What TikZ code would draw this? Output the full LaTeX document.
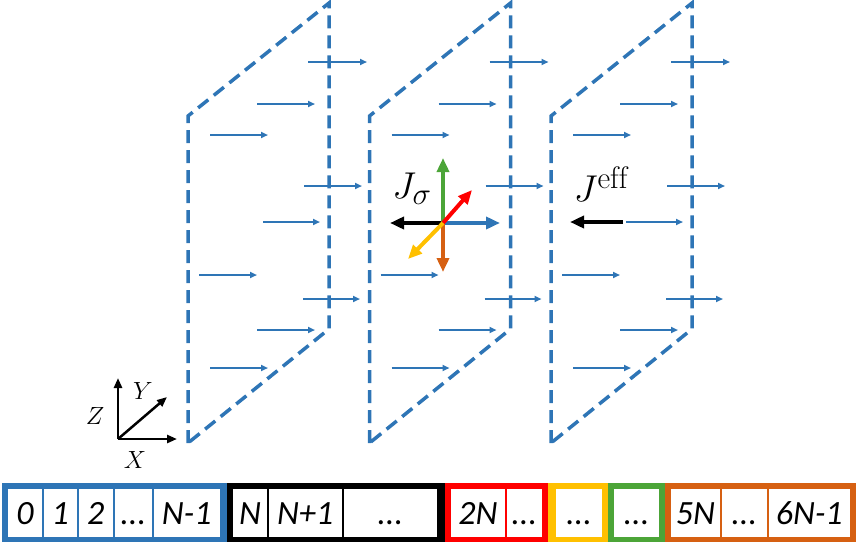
\documentclass[tikz,border=0pt]{standalone}
\usepackage{amsmath}
\usepackage{graphicx}
\usepackage{fontspec}
\newfontfamily\cellfont{Carlito}
\usepackage{tikz}
\usetikzlibrary{arrows.meta}
\usepackage{xcolor}
\definecolor{planeblue}{RGB}{46,117,182}
\definecolor{spinred}{RGB}{255,0,0}
\definecolor{spinyellow}{RGB}{255,192,0}
\definecolor{spingreen}{RGB}{76,165,56}
\definecolor{spinorange}{RGB}{214,96,18}
\newcommand{\etcdots}{...}
\tikzset{
    plane/.style = {planeblue, line width=3.5pt, dash pattern=on 13pt off 7pt},
    flow/.style = {planeblue, line width=2pt, -{Triangle[length=7pt,width=6pt]}},
    spin/.style = {line width=4pt, -{Triangle[length=14pt,width=12pt]}},
    axis/.style = {line width=2.5pt, -{Triangle[length=10pt,width=8pt]}},
    cell/.style = {inner sep=0pt, anchor=base, font=\cellfont\itshape\fontsize{34}{36}\selectfont},
    bigmath/.style = {font=\Huge},
    axlabel/.style = {font=\huge},
}

\begin{document}
\begin{tikzpicture}[x=1pt, y=-1pt]
        \useasboundingbox (0,0) rectangle (858,544);
        % three planes with the flow through them
        \foreach \p in {0,1,2} {
            \begin{scope}[xshift=181.5*\p]
                \draw[plane] (188,443) -- (188,116) -- (329,3) -- (329,329) -- cycle;
                \foreach \a/\b/\y in {120/179/62, 69/127/104, 22/80/135, 116/174/186,
                        11/69/275, 115/172/299, 69/127/330, 22/80/368}
                    \draw[flow] (188+\a,\y) -- (188+\b,\y);
            \end{scope}
        }
        \draw[flow] (263,222) -- (320,222);
        \draw[flow] (626,222) -- (683,222);
        % spin components
        \coordinate (s0) at (443,223);
        \coordinate (sx) at (500,223);
        \coordinate (sxm) at (390,223);
        \coordinate (sz) at (443,158);
        \coordinate (szm) at (443,272);
        \coordinate (sy) at (472,190);
        \coordinate (sym) at (408,259);
        \draw[spin, planeblue] (s0) -- (sx);
        \draw[spin, black] (s0) -- (sxm);
        \draw[spin, spingreen] (s0) -- (sz);
        \draw[spin, spinorange] (s0) -- (szm);
        \draw[spin, spinred] (s0) -- (sy);
        \draw[spin, spinyellow] (s0) -- (sym);
        \node[bigmath] (jsig) at (412,189) {\scalebox{1.5}{$J_\sigma$}};
        % effective field
        \coordinate (e0) at (623,222);
        \coordinate (e1) at (570,222);
        \draw[spin, black] (e0) -- (e1);
        \node[bigmath] (jeff) at (601,184) {\scalebox{1.5}{$J^{\mathrm{eff}}$}};
        % axes
        \coordinate (o) at (118,439);
        \draw[axis] (o) -- (118,378);
        \draw[axis] (o) -- (167,397);
        \draw[axis] (o) -- (177,439);
        \node[axlabel] (lz) at (95,416) {\scalebox{1.2}{$Z$}};
        \node[axlabel] (ly) at (143,391) {\scalebox{1.2}{$Y$}};
        \node[axlabel] (lx) at (135,460) {\scalebox{1.2}{$X$}};
        % index bar
        \fill[planeblue] (2,483) rectangle (227,542);
        \fill[black] (227,483) rectangle (445,542);
        \fill[spinred] (445,483) rectangle (548,542);
        \fill[spinyellow] (548,483) rectangle (608,542);
        \fill[spingreen] (608,483) rectangle (665,542);
        \fill[spinorange] (665,483) rectangle (856,542);
        \foreach \a/\b/\t [count=\i] in {8/42/0, 43.5/77/1, 78.5/113/2, 114.5/152/\etcdots, 153.5/220/N-1,
                233/267/N, 268.5/342/N+1, 343.5/437/\etcdots, 451/505/2N, 506.5/542/\etcdots,
                556/602/\etcdots, 614/659/\etcdots, 671/720/5N, 721.5/767/\etcdots, 768.5/850/6N-1} {
            \fill[white] (\a,489) rectangle (\b,537);
            \node[cell] (cell\i) at ({(\a+\b)/2},524) {\t};
        }
\end{tikzpicture}
\end{document}
